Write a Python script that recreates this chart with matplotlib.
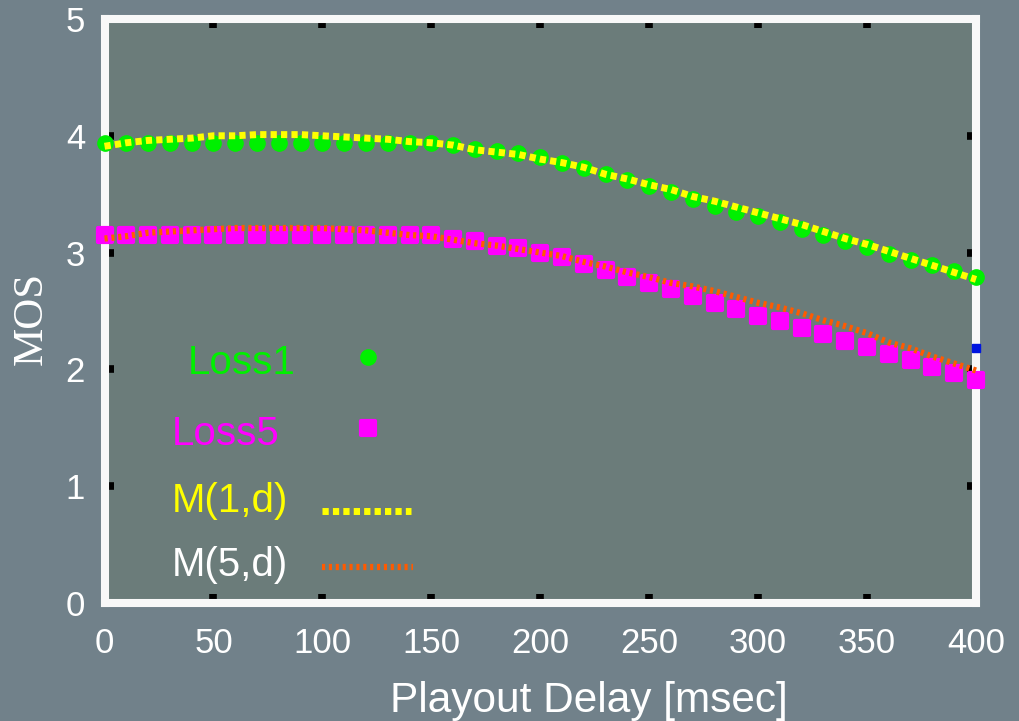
import numpy as np
import matplotlib.pyplot as plt
from matplotlib.markers import MarkerStyle
from matplotlib.lines import Line2D

# playout delay [msec]
delay = [0, 10, 20, 30, 40, 50, 60, 70, 80, 90, 100, 110, 120, 130, 140, 150,
         160, 170, 180, 190, 200, 210, 220, 230, 240, 250, 260, 270, 280, 290,
         300, 310, 320, 330, 340, 350, 360, 370, 380, 390, 400]

loss1 = [3.94, 3.94, 3.94, 3.94, 3.94, 3.94, 3.94, 3.94, 3.94, 3.94, 3.94,
         3.94, 3.94, 3.94, 3.94, 3.94, 3.92, 3.89, 3.87, 3.85, 3.82, 3.77,
         3.72, 3.67, 3.62, 3.57, 3.52, 3.46, 3.40, 3.35, 3.31, 3.26, 3.20,
         3.15, 3.10, 3.05, 2.99, 2.94, 2.89, 2.84, 2.79]

loss5 = [3.15, 3.15, 3.15, 3.15, 3.15, 3.15, 3.15, 3.15, 3.15, 3.15, 3.15,
         3.15, 3.15, 3.15, 3.15, 3.15, 3.12, 3.10, 3.06, 3.04, 3.00, 2.96,
         2.90, 2.85, 2.79, 2.74, 2.69, 2.63, 2.57, 2.52, 2.46, 2.41, 2.35,
         2.30, 2.24, 2.19, 2.13, 2.08, 2.02, 1.97, 1.91]

m1 = [3.91, 3.94, 3.96, 3.97, 3.98, 4.00, 4.00, 4.01, 4.01, 4.01, 4.00,
      3.99, 3.98, 3.97, 3.95, 3.94, 3.92, 3.88, 3.86, 3.84, 3.80, 3.77,
      3.73, 3.67, 3.63, 3.58, 3.54, 3.48, 3.44, 3.39, 3.34, 3.29, 3.24,
      3.18, 3.12, 3.07, 3.01, 2.95, 2.89, 2.83, 2.77]

m5 = [3.12, 3.14, 3.17, 3.18, 3.19, 3.20, 3.21, 3.21, 3.21, 3.21, 3.21,
      3.20, 3.19, 3.17, 3.15, 3.14, 3.11, 3.08, 3.06, 3.03, 3.00, 2.97,
      2.92, 2.88, 2.83, 2.79, 2.74, 2.71, 2.67, 2.62, 2.57, 2.53, 2.48,
      2.42, 2.37, 2.31, 2.23, 2.18, 2.11, 2.05, 1.99]

# stray point at the right edge
stray_x = [400]
stray_y = [2.18]

xticks = [0, 50, 100, 150, 200, 250, 300, 350, 400]
yticks = [0, 1, 2, 3, 4, 5]

GREEN = '#00f000'
MAGENTA = '#ff00ff'
YELLOW = '#ffff00'
ORANGE = '#ff5a00'
sans = 'Liberation Sans'

fig = plt.figure(figsize=(10.19, 7.21), dpi=100)
fig.patch.set_facecolor('#71818a')
ax = fig.add_axes([0.1026, 0.1637, 0.8552, 0.81])
ax.set_facecolor('#6b7c7a')

rnd = MarkerStyle('o')
sq = MarkerStyle('s', joinstyle='round')

ax.plot(delay, loss1, ls='none', marker=rnd, ms=11, color=GREEN, mec=GREEN,
        clip_on=False, zorder=3)
ax.plot(delay, loss5, ls='none', marker=sq, ms=10, mew=3, color=MAGENTA,
        mec=MAGENTA, clip_on=False, zorder=3)
ax.plot(delay, m1, color=YELLOW, lw=5, ls=(0, (0.9, 0.6)), dash_capstyle='butt',
        clip_on=False, zorder=4)
ax.plot(delay, m5, color=ORANGE, lw=4.5, ls=(0, (0.5, 0.6)), dash_capstyle='butt',
        clip_on=False, zorder=4)
ax.plot(stray_x, stray_y, ls='none', marker='s', ms=6, color='#0015e0',
        clip_on=False, zorder=5)

ax.set_xlim(0, 400)
ax.set_ylim(0, 5)
ax.set_xticks(xticks)
ax.set_yticks(yticks)
for s in ax.spines.values():
    s.set_color('#f8f8f8')
    s.set_linewidth(5.8)
ax.tick_params(direction='in', top=True, right=True, length=6.5, width=5.5,
               color='black', labelcolor='white', labelsize=25)
ax.tick_params(axis='x', pad=17)
ax.tick_params(axis='y', pad=14)
for lab in ax.get_xticklabels() + ax.get_yticklabels():
    lab.set_fontfamily(sans)

fig.text(0.578, 0.0125, 'Playout Delay [msec]', color='white', fontsize=30.5,
         family=sans, ha='center', va='baseline')
fig.text(0.031, 0.559, 'MOS', color='white', fontsize=31,
         family='Liberation Serif', rotation=90, ha='center', va='center')

# legend, text on the left and sample on the right
leg_txt = ['Loss1', 'Loss5', 'M(1,d)', 'M(5,d)']
leg_col = [GREEN, MAGENTA, YELLOW, 'white']
leg_tx = [0.1845, 0.169, 0.169, 0.169]
leg_ty = [0.497, 0.398, 0.305, 0.217]
for t, c, tx, ty in zip(leg_txt, leg_col, leg_tx, leg_ty):
    fig.text(tx, ty, t, color=c, fontsize=29, family=sans, ha='left',
             va='center')

fig.add_artist(Line2D([0.361], [0.505], transform=fig.transFigure, ls='none',
                      marker=rnd, ms=11, color=GREEN))
fig.add_artist(Line2D([0.361], [0.406], transform=fig.transFigure, ls='none',
                      marker=sq, ms=10, mew=3, color=MAGENTA, mec=MAGENTA))
fig.add_artist(Line2D([0.316, 0.403], [0.291, 0.291], transform=fig.transFigure,
                      color=YELLOW, lw=5, ls=(0, (0.9, 0.6)), dash_capstyle='butt'))
fig.add_artist(Line2D([0.316, 0.405], [0.214, 0.214], transform=fig.transFigure,
                      color=ORANGE, lw=4.5, ls=(0, (0.5, 0.6)), dash_capstyle='butt'))

fig.savefig('out.png', dpi=100, facecolor=fig.get_facecolor())
